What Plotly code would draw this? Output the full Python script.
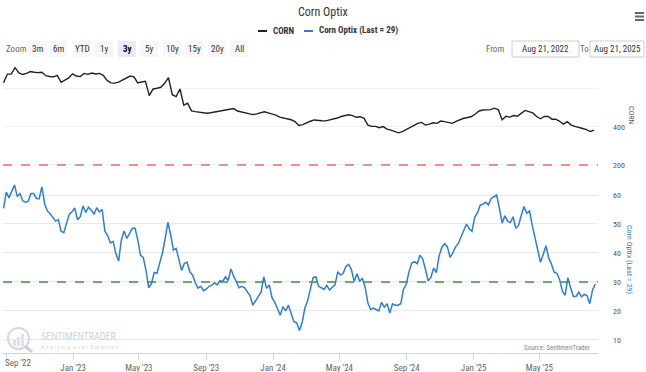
import pandas as pd
import plotly.graph_objects as go

# ---------------- data ----------------
corn_start = "2022-08-27"
corn_values = [
    633, 678, 678, 712, 685, 676, 682, 692, 688, 686,
    688, 670, 666, 664, 672, 635, 647, 658, 680, 668,
    665, 682, 677, 684, 679, 682, 672, 645, 632, 631,
    636, 647, 657, 668, 664, 632, 637, 640, 565, 600,
    604, 609, 630, 660, 570, 560, 600, 515, 525, 485,
    481, 477, 473, 472, 475, 479, 483, 487, 491, 496,
    497, 484, 480, 477, 471, 465, 469, 476, 480, 474,
    469, 462, 452, 448, 445, 438, 428, 408, 412, 422,
    430, 437, 434, 433, 432, 436, 441, 447, 455, 458,
    464, 460, 451, 454, 445, 410, 403, 403, 396, 402,
    389, 383, 378, 369, 375, 387, 395, 411, 419, 424,
    410, 415, 422, 419, 431, 428, 424, 419, 430, 439,
    446, 450, 455, 468, 484, 489, 489, 491, 499, 490,
    438, 456, 452, 460, 457, 470, 487, 481, 474, 455,
    443, 455, 455, 441, 441, 430, 415, 428, 410, 403,
    399, 392, 386, 376, 383,
]

optix_start = "2022-08-27"
optix_values = [
    55.4, 61.0, 59.0, 61.0, 63.5, 59.5, 60.5, 58.0, 57.5, 57.8,
    60.5, 60.5, 58.8, 58.7, 62.8, 57.0, 54.5, 53.5, 52.3, 51.0,
    51.5, 47.5, 47.0, 50.0, 53.4, 54.2, 55.5, 51.5, 52.5, 56.2,
    54.0, 55.8, 54.8, 53.3, 55.6, 54.2, 55.0, 47.5, 46.0, 43.5,
    44.0, 39.8, 37.2, 44.5, 47.6, 45.0, 47.0, 48.5, 48.5, 44.5,
    39.2, 38.5, 34.0, 28.0, 29.5, 33.3, 33.0, 36.6, 40.0, 45.0,
    50.6, 46.3, 41.0, 41.6, 38.0, 34.0, 36.4, 36.8, 33.5, 32.4,
    29.7, 27.9, 28.5, 27.0, 27.5, 28.5, 28.8, 29.7, 29.0, 30.5,
    30.2, 31.8, 30.5, 34.5, 32.0, 30.0, 28.0, 28.5, 28.0, 26.6,
    25.2, 22.0, 23.5, 25.2, 26.5, 31.8, 27.8, 29.0, 24.6, 23.0,
    21.0, 18.5, 21.5, 20.0, 22.0, 19.2, 16.3, 15.9, 13.3, 16.0,
    21.0, 23.5, 28.0, 31.5, 31.8, 28.5, 28.0, 27.4, 28.8, 27.2,
    28.2, 29.0, 33.5, 32.4, 33.0, 35.4, 36.1, 34.2, 30.2, 32.8,
    30.3, 31.2, 28.2, 22.7, 20.5, 21.0, 20.5, 20.0, 23.0, 21.3,
    22.5, 19.3, 22.5, 22.0, 22.0, 22.5, 27.5, 29.2, 33.5, 36.5,
    37.0, 36.3, 39.2, 38.0, 34.4, 30.4, 31.6, 34.8, 33.2, 39.0,
    42.0, 43.2, 42.2, 38.5, 40.0, 42.1, 43.3, 45.5, 47.6, 50.0,
    48.3, 47.5, 52.3, 53.9, 56.5, 56.8, 57.5, 56.6, 58.8, 59.5,
    60.0, 55.5, 50.3, 52.8, 51.0, 50.5, 52.5, 48.5, 49.5, 53.0,
    56.0, 53.7, 54.5, 49.5, 45.5, 41.0, 36.8, 39.5, 42.5, 38.3,
    36.2, 33.4, 33.0, 30.8, 26.8, 25.5, 31.5, 28.0, 25.0, 25.0,
    26.5, 24.9, 25.7, 25.3, 22.5, 27.2, 29.3,
]

corn_red_level = 200
optix_green_level = 30

x_tick_dates = ["2022-09-01", "2023-01-01", "2023-05-01", "2023-09-01", "2024-01-01",
                "2024-05-01", "2024-09-01", "2025-01-01", "2025-05-01"]
x_tick_labels = ["Sep '22", "Jan '23", "May '23", "Sep '23", "Jan '24",
                 "May '24", "Sep '24", "Jan '25", "May '25"]
corn_ticks = [200, 400, 600]
corn_tick_labels = ["200", "400", ""]
optix_ticks = [10, 20, 30, 40, 50, 60]

range_buttons = ["3m", "6m", "YTD", "1y", "3y", "5y", "10y", "15y", "20y", "All"]
selected_button = "3y"
from_date_text = "Aug 21, 2022"
to_date_text = "Aug 21, 2025"

corn_dates = pd.date_range(corn_start, periods=len(corn_values), freq="7D")
optix_dates = pd.date_range(optix_start, periods=len(optix_values), freq="5D")

FONT = "Liberation Sans Narrow, Roboto Condensed, DejaVu Sans Condensed, Roboto, sans-serif"

# ---------------- layout geometry (pixels) ----------------
W, H = 646, 372
L, R, T, B = 3, 598, 62, 353


def px(x):
    return (x - L) / (R - L)


def py(y):
    return (B - y) / (B - T)


annotations = []
shapes = []


def ann(text, x, y, size=9, color="#333333", xanchor="center", angle=0):
    annotations.append(dict(text=text, x=px(x), y=py(y), xref="paper", yref="paper",
                            xanchor=xanchor, yanchor="middle", showarrow=False,
                            textangle=angle, font=dict(size=size, color=color)))


def hline(x0, x1, y0, y1, color, width=2):
    shapes.append(dict(type="line", xref="paper", yref="paper", x0=px(x0), x1=px(x1),
                       y0=py(y0), y1=py(y1), line=dict(color=color, width=width)))


def rect(x0, x1, y0, y1, fill, line_color=None):
    shapes.append(dict(type="rect", xref="paper", yref="paper", x0=px(x0), x1=px(x1),
                       y0=py(y1), y1=py(y0), fillcolor=fill,
                       line=dict(color=line_color or fill, width=1 if line_color else 0),
                       layer="below"))


fig = go.Figure()
fig.add_trace(go.Scatter(x=corn_dates, y=corn_values, name="CORN", mode="lines",
                         line=dict(color="#222222", width=1.4), xaxis="x2", yaxis="y2",
                         showlegend=False))
fig.add_trace(go.Scatter(x=optix_dates, y=optix_values, name="Corn Optix (Last = 29)",
                         mode="lines", line=dict(color="#2b7de0", width=1.5),
                         xaxis="x", yaxis="y", showlegend=False))

# threshold lines
shapes.append(dict(type="line", xref="x2 domain", x0=0, x1=1, yref="y2",
                   y0=corn_red_level, y1=corn_red_level,
                   line=dict(color="#f06a6a", width=1.4, dash="dash")))
shapes.append(dict(type="line", xref="x domain", x0=0, x1=1, yref="y",
                   y0=optix_green_level, y1=optix_green_level,
                   line=dict(color="#3a983a", width=1.4, dash="dash")))

# title
ann("Corn Optix", 323, 12, size=12)

# legend (manual)
hline(258, 267, 31, 31, "#222222")
ann("<b>CORN</b>", 271, 31, xanchor="left")
hline(304, 313, 31, 31, "#2b7de0")
ann("<b>Corn Optix (Last = 29)</b>", 317, 31, xanchor="left")

# hamburger
for yy in (13, 16.5, 20):
    hline(635, 644, yy, yy, "#666666")

# range selector
ann("Zoom", 4, 49, color="#666666", xanchor="left")
btn_centers = [37, 58, 82, 104, 127, 149, 172, 194, 217, 239]
for lab, c in zip(range_buttons, btn_centers):
    sel = lab == selected_button
    rect(c - 9, c + 9, 41, 57, "#e6ebf5" if sel else "#f7f7f7")
    ann(f"<b>{lab}</b>" if sel else lab, c, 49, color="#000000" if sel else "#333333")

ann("From", 506, 49, color="#666666", xanchor="right")
rect(512, 579, 41, 57, "#ffffff", "#cccccc")
ann(from_date_text, 545.5, 49)
ann("To", 584, 49, color="#666666")
rect(590, 644, 41, 57, "#ffffff", "#cccccc")
ann(to_date_text, 617, 49)

# axis titles
ann("CORN", 632, 115, size=8, color="#666666", angle=90)
ann("Corn Optix (Last = 29)", 630, 259, size=8, color="#2b7de0", angle=90)

# first x label (Highcharts shifts it inside the chart)
ann("Sep '22", 3, 363, size=9, color="#666666", xanchor="left")

# watermark
shapes.append(dict(type="circle", xref="paper", yref="paper", x0=px(8), x1=px(29),
                   y0=py(349), y1=py(328), line=dict(color="#d3d9e0", width=2)))
hline(25, 32, 346, 352, "#c5d3e3", 3)
for bx, bt in ((13, 340), (17, 337), (21, 334)):
    rect(bx, bx + 3, bt, 346, "#dde2e8")
ann("<span style='color:#c9d6e6'>SENTIMEN</span><span style='color:#d2d2d2'>TRADER</span>",
    39, 336, size=10, color="#c9d6e6", xanchor="left")
ann("A n a l y s i s  o v e r  E m o t i o n", 39, 346.5, size=6, color="#d6d6d6",
    xanchor="left")
ann("Source: SentimenTrader", 592, 347.5, size=7, color="#888888", xanchor="right")

x_range = ["2022-08-26", "2025-08-16"]
x_labels_axis = [""] + x_tick_labels[1:]

fig.update_layout(
    width=W, height=H,
    margin=dict(l=L, r=W - R, t=T, b=H - B, pad=0, autoexpand=False),
    paper_bgcolor="#ffffff", plot_bgcolor="#ffffff",
    font=dict(family=FONT, size=9, color="#666666"),
    showlegend=False,
    xaxis=dict(domain=[0, 1], anchor="y", range=x_range, type="date", automargin=False,
               tickmode="array", tickvals=x_tick_dates, ticktext=x_labels_axis,
               ticks="outside", ticklen=6, tickcolor="#ccd6eb", showline=True,
               linecolor="#ccd6eb", linewidth=1, showgrid=False, zeroline=False,
               tickfont=dict(size=9, color="#666666")),
    xaxis2=dict(domain=[0, 1], anchor="y2", matches="x", type="date", visible=False,
                automargin=False),
    yaxis=dict(domain=[0, py(175)], anchor="x", side="right", range=[5.5, 66.9],
               automargin=False,
               tickmode="array", tickvals=optix_ticks, gridcolor="#e9e9e9",
               zeroline=False, showline=False, ticks="", ticklabelstandoff=14,
               tickfont=dict(size=8, color="#555555")),
    yaxis2=dict(domain=[py(168), 1], anchor="x2", side="right", range=[184, 742],
                automargin=False,
                tickmode="array", tickvals=corn_ticks, ticktext=corn_tick_labels,
                gridcolor="#f1f1f1", zeroline=False, showline=False, ticks="",
                ticklabelstandoff=14, tickfont=dict(size=8, color="#555555")),
    shapes=shapes,
    annotations=annotations,
)

fig.write_html("out.html", config={"displayModeBar": False},
               post_script="document.body.style.margin='0';document.body.style.padding='0';")
